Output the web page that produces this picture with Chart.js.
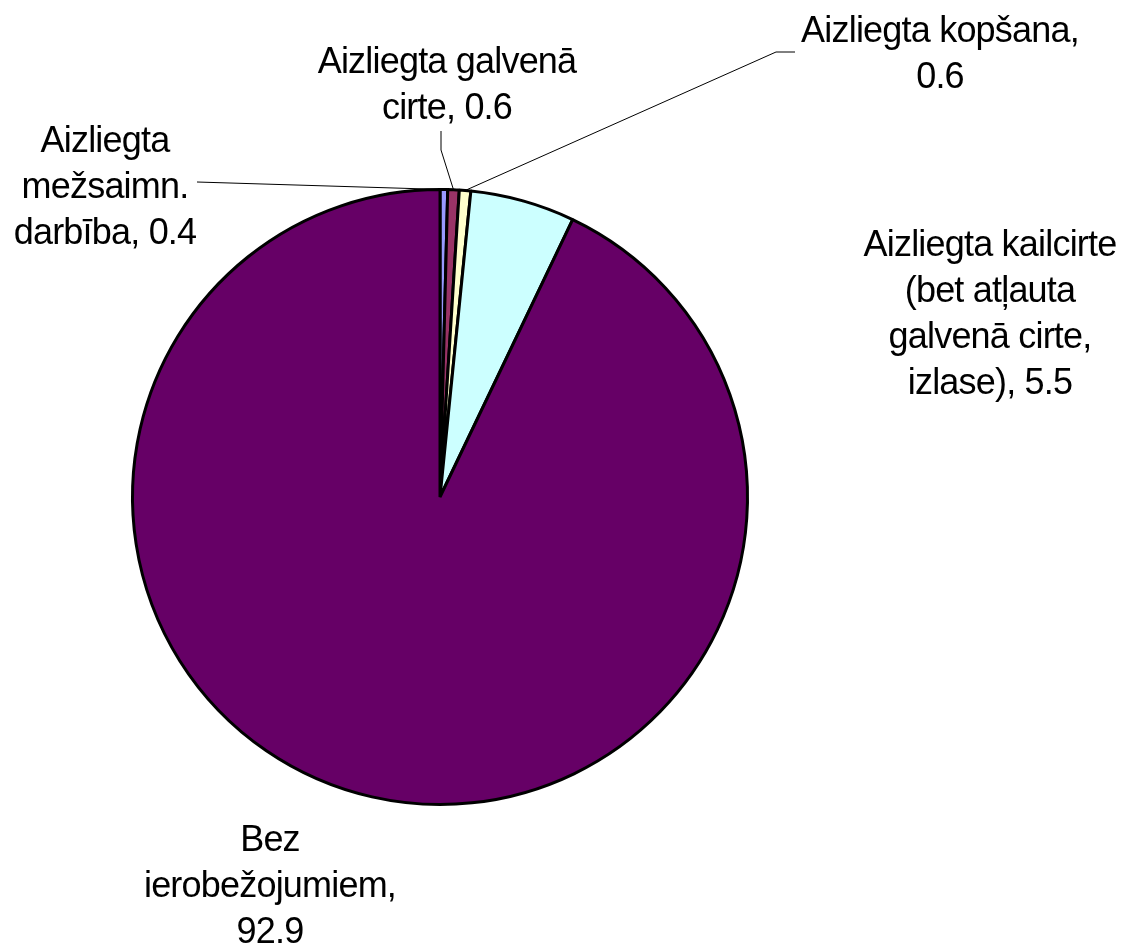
<!DOCTYPE html>
<html>
<head>
<meta charset="utf-8">
<script src="https://cdn.jsdelivr.net/npm/chart.js@4.4.1/dist/chart.umd.min.js"></script>
<style>
  html, body { margin: 0; padding: 0; background: #fff; }
  #wrap { width: 1124px; height: 946px; }
</style>
</head>
<body>
<div id="wrap"><canvas id="pie-chart" width="1124" height="946"></canvas></div>
<script>
// slice order clockwise from 12 o'clock
var categories = [
  'Aizliegta mežsaimn. darbība',
  'Aizliegta galvenā cirte',
  'Aizliegta kopšana',
  'Aizliegta kailcirte (bet atļauta galvenā cirte, izlase)',
  'Bez ierobežojumiem'
];
var shares = [0.4, 0.6, 0.6, 5.5, 92.9];
var sliceColors = ['#9999FF', '#993366', '#FFFFCC', '#CCFFFF', '#660066'];

// how each label is broken into lines (value is appended from shares)
var labelLines = [
  ['Aizliegta', 'mežsaimn.', 'darbība, '],
  ['Aizliegta galvenā', 'cirte, '],
  ['Aizliegta kopšana,', ''],
  ['Aizliegta kailcirte', '(bet atļauta', 'galvenā cirte,', 'izlase), '],
  ['Bez', 'ierobežojumiem,', '']
];

// label placement: center x, first line y, and leader line knee points (null = no leader)
var labelPos = [
  { x: 105, y: 142, lead: [[197, 182]] },
  { x: 447, y: 63, lead: [[441, 131], [441, 150]] },
  { x: 940, y: 32, lead: [[795, 52], [776, 52]] },
  { x: 990, y: 246, lead: null },
  { x: 270, y: 841, lead: null }
];

var pieLabels = {
  id: 'pieLabels',
  afterDraw: function(chart) {
    var ctx = chart.ctx;
    var arcs = chart.getDatasetMeta(0).data;
    ctx.save();
    ctx.font = '36px "Liberation Sans", Arial, sans-serif';
    ctx.letterSpacing = '-0.8px';
    ctx.fillStyle = '#000';
    ctx.textAlign = 'center';
    ctx.textBaseline = 'middle';
    for (var i = 0; i < arcs.length; i++) {
      var pos = labelPos[i];
      var lines = labelLines[i].slice();
      lines[lines.length - 1] += shares[i].toFixed(1);
      for (var j = 0; j < lines.length; j++) {
        ctx.fillText(lines[j], pos.x, pos.y + j * 46);
      }
      if (pos.lead) {
        var a = arcs[i];
        var mid = (a.startAngle + a.endAngle) / 2;
        var ex = a.x + Math.cos(mid) * a.outerRadius;
        var ey = a.y + Math.sin(mid) * a.outerRadius;
        ctx.beginPath();
        ctx.lineWidth = 1;
        ctx.strokeStyle = '#000';
        ctx.moveTo(pos.lead[0][0], pos.lead[0][1]);
        for (var k = 1; k < pos.lead.length; k++) {
          ctx.lineTo(pos.lead[k][0], pos.lead[k][1]);
        }
        ctx.lineTo(ex, ey);
        ctx.stroke();
      }
    }
    ctx.restore();
  }
};

var ctx = document.getElementById('pie-chart');
var myPieChart = new Chart(ctx, {
  type: 'pie',
  data: {
    labels: categories,
    datasets: [{
      data: shares,
      backgroundColor: sliceColors,
      borderColor: '#000',
      borderWidth: 3
    }]
  },
  options: {
    responsive: false,
    animation: false,
    layout: {
      padding: { left: 131, right: 375, top: 188, bottom: 140 }
    },
    plugins: {
      legend: { display: false },
      tooltip: { enabled: false }
    }
  },
  plugins: [pieLabels]
});
</script>
</body>
</html>
